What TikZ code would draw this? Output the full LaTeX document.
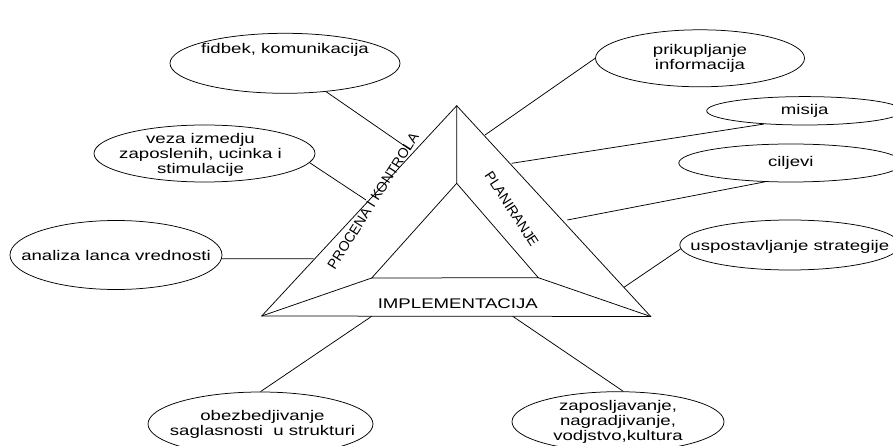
\documentclass[tikz,border=0pt]{standalone}
\usepackage{fontspec}
\setmainfont{Liberation Sans}[FakeStretch=1.33]
\newfontfamily\rotfont{Liberation Sans}
\usetikzlibrary{shapes.geometric}

\begin{document}
\begin{tikzpicture}[x=1pt, y=-1pt,
    font=\fontsize{14}{15}\selectfont,
    bubble/.style={draw, ellipse, line width=0.75pt, inner sep=0pt},
    txt/.style={align=center, inner sep=0pt},
    link/.style={line width=0.75pt},
    sidetxt/.style={font=\rotfont\fontsize{14}{15}\selectfont, inner sep=0pt}]
  \useasboundingbox (0,0) rectangle (893,446);

  % triangle
  \coordinate (ta) at (456.7,105.7);
  \coordinate (tl) at (261.7,316);
  \coordinate (tr) at (650.7,316.5);
  \coordinate (ia) at (456.7,183.3);
  \coordinate (il) at (371.7,278);
  \coordinate (ir) at (538.3,277.7);
  \draw[link] (ta) -- (tl) -- (tr) -- cycle;
  \draw[link] (ia) -- (il) -- (ir) -- cycle;
  \draw[link] (ta) -- (ia) (tl) -- (il) (tr) -- (ir);

  \node[sidetxt, rotate=57.7] (kon) at (373,201) {PROCENA I KONTROLA};
  \node[sidetxt, rotate=-57] (plan) at (511.7,209) {PLANIRANJE};
  \node[txt] (impl) at (457.8,304) {IMPLEMENTACIJA};

  % bubbles
  \node[bubble, minimum width=230, minimum height=60,
    label={[txt, yshift=13pt]center:fidbek, komunikacija}] (fid) at (285,63.3) {};
  \node[bubble, minimum width=221, minimum height=57,
    label={[txt, xshift=-4pt, yshift=-1.5pt]center:veza izmedju\\zaposlenih, ucinka i\\stimulacije}] (vez) at (204.5,153.5) {};
  \node[bubble, minimum width=212, minimum height=69,
    label={[txt]center:analiza lanca vrednosti}] (ana) at (116,255) {};
  \node[bubble, minimum width=209, minimum height=57,
    label={[txt]center:prikupljanje\\informacija}] (pri) at (700,58.3) {};
  \node[bubble, minimum width=196, minimum height=28.4,
    label={[txt]center:misija}] (mis) at (804.7,110.8) {};
  \node[bubble, minimum width=224, minimum height=38,
    label={[txt]center:ciljevi}] (cil) at (790.8,163) {};
  \node[bubble, minimum width=220, minimum height=50,
    label={[txt, yshift=-1.7pt]center:uspostavljanje strategije}] (usp) at (789.8,245) {};
  \node[bubble, minimum width=225, minimum height=64,
    label={[txt, xshift=2pt]center:obezbedjivanje\\saglasnosti\ \ u strukturi}] (obe) at (260.5,424) {};
  \node[bubble, minimum width=212, minimum height=60,
    label={[txt]center:zaposljavanje,\\nagradjivanje,\\vodjstvo,kultura}] (zap) at (618,421.7) {};

  % ends on the triangle
  \coordinate (e1) at (410.5,150);
  \coordinate (e2) at (366,200);
  \coordinate (e3) at (313.5,258.7);
  \coordinate (e4) at (485,135);
  \coordinate (e5) at (511.7,163.3);
  \coordinate (e6) at (567.3,220);
  \coordinate (e7) at (624,287.3);
  \coordinate (e8) at (371.7,316.3);
  \coordinate (e9) at (512.7,316.3);

  \draw[link] (fid) -- (e1);
  \draw[link] (vez.-5) -- (e2);
  \draw[link] (ana.-2) -- (e3);
  \draw[link] (pri.west) -- (e4);
  \draw[link] (mis.-162.7) -- (e5);
  \draw[link] (cil.-144) -- (e6);
  \draw[link] (usp.-178) -- (e7);
  \draw[link] (obe.north) -- (e8);
  \draw[link] (zap.80) -- (e9);
\end{tikzpicture}
\end{document}
